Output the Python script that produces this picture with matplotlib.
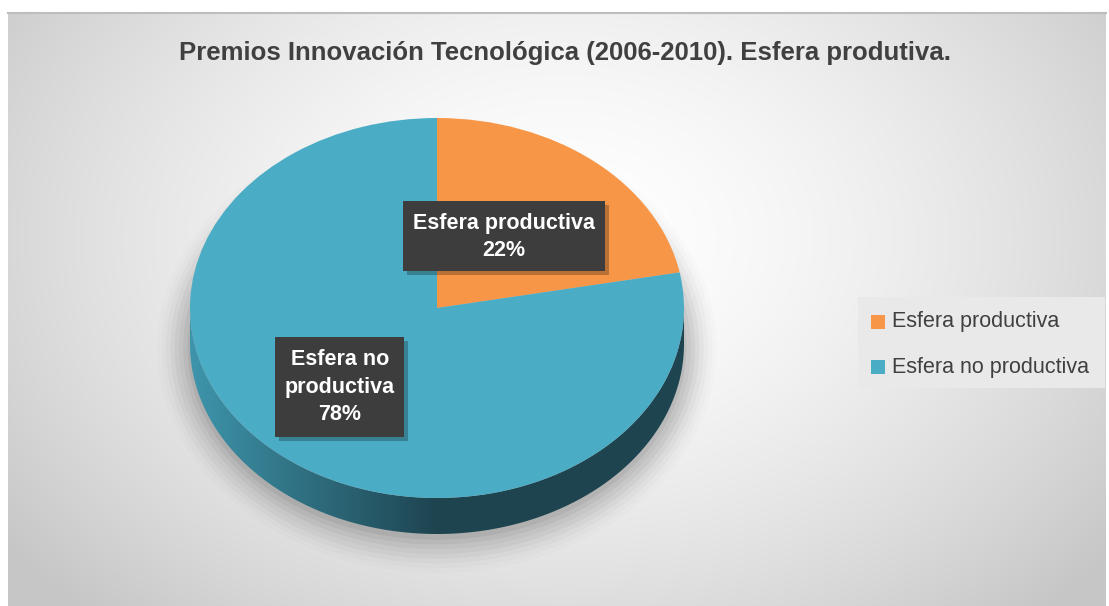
import matplotlib.pyplot as plt
import matplotlib.patches as mpatches
from matplotlib.patches import Ellipse, Rectangle, Polygon
import numpy as np

plt.rcParams['font.family'] = ['Liberation Sans', 'DejaVu Sans']

title = 'Premios Innovación Tecnológica (2006-2010). Esfera produtiva.'
categories = ['Esfera productiva', 'Esfera no productiva']
values = [22, 78]
colors = ['#F79646', '#4BACC6']

W, H = 1109, 606
fig = plt.figure(figsize=(W / 100, H / 100), dpi=100)
fig.patch.set_facecolor('white')

# background panel with radial gradient
bg = fig.add_axes([0, 0, 1, 1])
bg.set_xlim(0, W)
bg.set_ylim(H, 0)
bg.axis('off')
bg.set_zorder(0)
yy, xx = np.mgrid[0:H, 0:W]
r = np.sqrt(((xx - 560) / 700.0) ** 2 + ((yy - 230) / 520.0) ** 2)
shade = 1.0 - 0.22 * np.clip(r, 0, 1) ** 1.6
img = np.dstack([shade, shade, shade])
bg.imshow(img, extent=(8, W - 3, H, 12), zorder=0, aspect='auto')
bg.plot([8, W - 3], [12.5, 12.5], color='#bdbdbd', lw=1.5, zorder=1)

# pie geometry in pixels
cx, cy, rx, ry, depth = 437, 308, 247, 190, 36
d = depth / ry
xlo, xhi = -1.05, 1.05
ylo, yhi = -1 - d - 0.25, 1.05
ax_w = (xhi - xlo) * rx
ax_h = (yhi - ylo) * ry
left = cx + xlo * rx
top = cy - yhi * ry
ax = fig.add_axes([left / W, 1 - (top + ax_h) / H, ax_w / W, ax_h / H])
ax.set_zorder(1)
ax.patch.set_alpha(0)

# soft shadow under the pie
for i, a in enumerate(np.linspace(0.05, 0.012, 8)):
    sh = Ellipse((0, -d - 0.02), 2.02 + i * 0.035, 2.02 + i * 0.05,
                 facecolor='black', alpha=a, lw=0, zorder=1)
    sh.set_clip_on(False)
    ax.add_patch(sh)

# side wall (gradient clipped to band)
t = np.linspace(np.pi, 2 * np.pi, 200)
xs = np.cos(t)
band = np.concatenate([np.column_stack([xs, np.sin(t)]),
                       np.column_stack([xs[::-1], np.sin(t[::-1]) - d])])
poly = Polygon(band, closed=True, facecolor='none', lw=0, zorder=2)
ax.add_patch(poly)
gx = np.linspace(-1, 1, 400)
c0 = np.array([0x3E, 0x95, 0xAB]) / 255
c1 = np.array([0x1E, 0x44, 0x50]) / 255
f = np.clip((gx + 1) / 1.0, 0, 1)[None, :, None]
grad = np.repeat(c0 * (1 - f) + c1 * f, 2, axis=0)
im = ax.imshow(grad, extent=(-1, 1, -1 - d, 0.2), aspect='auto', zorder=2)
im.set_clip_path(poly)

# top face
wedges, _ = ax.pie(values, colors=colors, startangle=90, counterclock=False,
                   radius=1, wedgeprops=dict(lw=0), frame=False)
for w in wedges:
    w.set_zorder(3)
ax.set_aspect('auto')
ax.set_xlim(xlo, xhi)
ax.set_ylim(ylo, yhi)
ax.axis('off')

# overlay for labels and legend
ov = fig.add_axes([0, 0, 1, 1])
ov.set_xlim(0, W)
ov.set_ylim(H, 0)
ov.axis('off')
ov.set_zorder(2)
ov.patch.set_alpha(0)

lab_pos = [(504, 237), (340, 387)]
lab_txt = ['Esfera productiva\n22%', 'Esfera no\nproductiva\n78%']
lab_box = [(403, 201, 202, 70), (275, 337, 129, 100)]
for (bx, by, bw, bh), (tx, ty), txt in zip(lab_box, lab_pos, lab_txt):
    ov.add_patch(Rectangle((bx + 4, by + 4), bw, bh, facecolor='black',
                           alpha=0.25, lw=0, zorder=5))
    ov.add_patch(Rectangle((bx, by), bw, bh, facecolor='#3D3D3D', lw=0, zorder=6))
    ov.text(tx, ty, txt, ha='center', va='center', color='white', fontsize=15.5,
            fontweight='bold', linespacing=1.42, zorder=7)

# title
ov.text(565, 53, title, ha='center', va='center', fontsize=18.5,
        fontweight='bold', color='#404040')

# legend
ov.add_patch(Rectangle((858, 297), 247, 91, facecolor='#E9E9E9', lw=0, zorder=5))
for i, (lab, col) in enumerate(zip(categories, colors)):
    ly = 322 + i * 45
    ov.add_patch(Rectangle((871, ly - 7), 14, 14, facecolor=col, lw=0, zorder=6))
    ov.text(892, ly, lab, ha='left', va='center', fontsize=15.5, color='#404040', zorder=7)

plt.savefig('out.png', dpi=100, facecolor='white')
